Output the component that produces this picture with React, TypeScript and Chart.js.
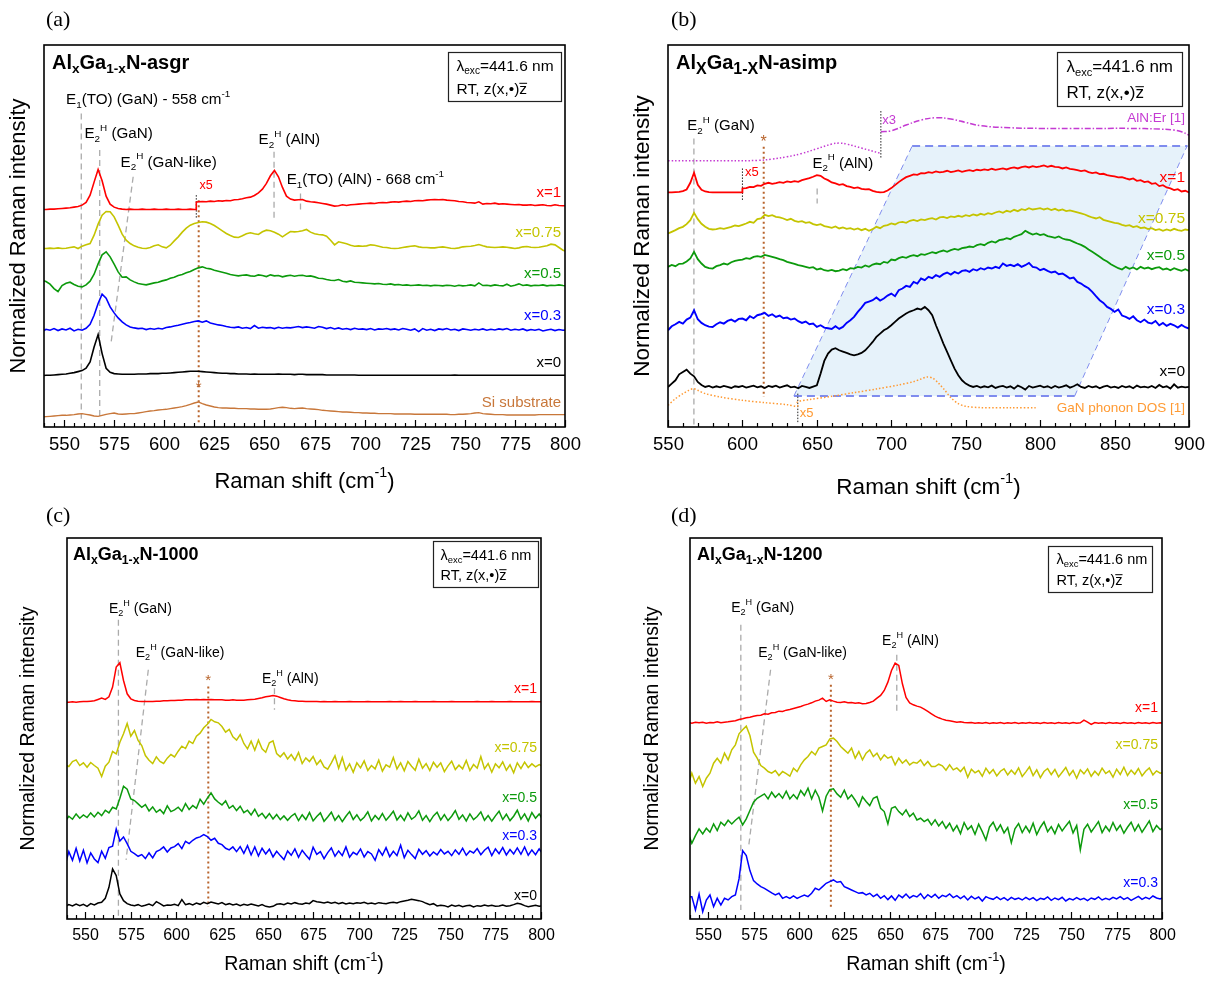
import React, { useEffect, useRef } from "react";
import { Chart, registerables } from "chart.js";

Chart.register(...registerables);

const SANS = '"Liberation Sans", Arial, Helvetica, sans-serif';
const SERIF = '"Liberation Serif", "Times New Roman", Times, serif';

const range = (a: number, b: number, s: number): number[] => {
  const r: number[] = [];
  for (let v = a; v <= b + 1e-9; v += s) r.push(Math.round(v * 100) / 100);
  return r;
};

// ---------- sampling positions (Raman shift, cm-1) ----------
const GRID_A = range(539, 801, 2);
const GRID_B = range(550, 900, 2.5);
const GRID_CD = range(539, 801, 2);
const RED_A_X = [...GRID_A.filter((x) => x < 616), 616, 616, ...GRID_A.filter((x) => x > 616)];
const RED_B_X = [...GRID_B.filter((x) => x <= 600), 600, ...GRID_B.filter((x) => x > 600)];

// ---------- panel (a) AlxGa1-xN-asgr ----------
const RED_A = [
  65.2, 65.2, 65.3, 65.3, 65.4, 65.5, 65.6, 65.7, 65.9, 66.1,
  66.5, 67.3, 69.5, 73.4, 77.2, 73.8, 69.2, 66.8, 65.9, 65.5,
  65.3, 65.2, 65.3, 65.2, 65.2, 65.3, 65.2, 65.2, 65.3, 65.2,
  65.2, 65.3, 65.2, 65.2, 65.3, 65.2, 65.2, 65.3, 65.2,
  65.2, 67.4,
  67.5, 67.6, 67.5, 67.7, 67.6, 67.8, 67.7, 67.9, 67.8, 68.1,
  68.2, 68.4, 68.7, 68.9, 69.4, 70.2, 71.3, 73.0, 75.3, 76.9,
  75.0, 71.8, 69.2, 68.3, 68.0, 68.1, 68.2, 67.7, 67.5, 67.4,
  67.2, 67.0, 66.8, 66.5, 66.2, 66.3, 66.6, 66.4, 66.6, 66.7,
  66.8, 66.9, 67.0, 67.1, 67.0, 67.2, 67.3, 67.2, 67.4, 67.5,
  67.4, 67.6, 67.7, 67.6, 67.8, 67.9, 67.8, 68.0, 68.1, 68.2,
  68.1, 68.2, 68.0, 67.9, 67.8, 67.6, 67.5, 67.3, 67.2, 67.1,
  67.5, 66.8, 67.0, 66.9, 67.1, 66.8, 66.9, 66.8, 66.7, 66.6,
  66.7, 66.5, 66.5, 66.6, 66.4, 66.5, 66.6, 66.4, 66.3, 66.6,
  66.4, 66.3, 66.3,
];
const YEL_A = [
  53.5, 53.5, 53.6, 53.5, 53.7, 53.5, 53.6, 53.8, 54.0, 53.5,
  54.2, 54.6, 55.0, 57.5, 60.8, 63.5, 64.6, 64.5, 63.0, 60.5,
  57.8, 56.0, 55.0, 54.3, 53.9, 53.6, 53.5, 53.8, 54.3, 54.6,
  54.0, 53.7, 54.5, 55.8, 57.0, 58.4, 59.6, 60.5, 61.0, 61.3,
  61.5, 61.4, 61.0, 60.4, 59.6, 58.8, 58.0, 57.4, 56.9, 56.8,
  57.3, 57.9, 58.2, 57.9, 57.7, 58.5, 59.0, 58.8, 58.4, 57.8,
  57.0, 57.8, 58.6, 58.5, 58.6, 58.8, 59.2, 58.4, 57.9, 57.7,
  57.6, 57.2, 56.0, 54.6, 55.5, 55.2, 54.9, 54.5, 54.2, 54.3,
  54.2, 54.3, 54.6, 54.5, 54.2, 53.9, 53.8, 53.6, 53.5, 53.6,
  53.8, 54.0, 54.2, 54.3, 54.0, 53.8, 53.8, 53.7, 53.7, 53.9,
  54.0, 53.8, 53.6, 53.5, 53.7, 54.0, 54.1, 54.2, 54.4, 54.7,
  54.3, 54.0, 53.9, 53.8, 53.9, 54.0, 53.9, 53.7, 53.5, 53.7,
  54.0, 54.1, 53.9, 53.8, 53.9, 54.1, 54.3, 54.8, 54.6, 53.8,
  53.0, 52.6,
];
const GRN_A = [
  44.0, 43.6, 42.8, 41.5, 40.6, 42.4, 43.1, 43.4, 42.7, 42.2,
  42.0, 42.6, 43.7, 45.8, 48.9, 51.6, 52.5, 51.0, 48.8, 46.5,
  44.9, 45.0, 44.1, 43.5, 43.0, 42.8, 42.6, 42.9, 43.2, 43.4,
  43.8, 44.1, 44.6, 44.9, 45.4, 45.7, 46.2, 46.6, 47.2, 47.7,
  48.0, 47.6, 47.4, 47.0, 46.7, 46.4, 46.1, 45.7, 45.5, 45.3,
  45.5, 45.6, 45.3, 45.2, 45.6, 45.4, 45.1, 45.6, 45.3, 45.4,
  45.0, 45.3, 45.5, 45.2, 45.4, 45.5, 45.2, 45.3, 45.0, 44.6,
  44.5, 44.2, 44.0, 43.9, 44.2, 43.7, 43.5, 43.8, 43.4, 43.3,
  43.2, 43.1, 43.0, 42.9, 43.0, 42.8, 42.7, 42.9, 42.6, 42.7,
  42.5, 42.6, 42.4, 42.5, 42.6, 42.4, 42.5, 42.3, 42.5, 42.4,
  42.3, 42.5, 42.4, 42.2, 42.5, 42.3, 42.4, 42.6, 42.3, 43.2,
  42.4, 42.5, 42.3, 42.6, 42.4, 42.3, 42.8, 42.2, 42.5, 42.9,
  42.4, 42.6, 42.3, 42.5, 42.4, 42.6, 42.3, 42.5, 42.4, 42.6,
  42.4, 42.3,
];
const BLU_A = [
  28.5, 29.3, 29.0, 29.5, 28.9, 29.4, 29.1, 29.6, 28.8, 29.3,
  29.0, 29.6, 30.8, 33.5, 37.0, 39.8, 38.6, 36.0, 34.2, 32.7,
  31.5, 30.6, 30.0, 29.7, 29.5, 29.6, 29.2, 29.5, 29.3, 29.6,
  29.4, 29.8, 30.0, 30.3, 30.5, 30.8, 31.1, 31.3, 31.6, 31.8,
  31.4, 31.8, 31.2, 30.9, 30.6, 30.4, 30.1, 29.9, 29.8, 30.0,
  29.6, 29.8, 29.5, 30.4, 29.6, 29.9, 29.7, 29.8, 29.5, 29.9,
  29.6, 29.8, 29.7, 29.9, 30.1, 29.8, 30.0, 29.8, 29.6, 30.1,
  29.9, 29.5, 29.8, 29.4, 29.7, 29.3, 29.5, 29.2, 29.6, 29.3,
  29.4, 29.2, 29.5, 29.1, 29.4, 29.3, 29.5, 29.2, 29.4, 29.1,
  29.5, 29.3, 29.0, 29.4, 28.6, 29.5, 29.0, 29.3, 28.9, 29.4,
  29.2, 29.5, 29.1, 29.3, 28.9, 29.4, 29.2, 29.0, 29.3, 29.1,
  29.4, 29.0, 29.3, 29.1, 29.4, 29.2, 29.5, 29.0, 29.3, 29.1,
  29.4, 28.9, 29.2, 29.0, 29.3, 28.8, 29.1, 29.3, 28.9, 29.2,
  29.0, 29.1,
];
const BLK_A = [
  15.4, 15.5, 15.5, 15.6, 15.7, 15.8, 15.9, 16.1, 16.3, 16.6,
  16.9, 17.6, 19.5, 24.0, 27.7, 22.0, 17.6, 16.4, 16.0, 15.9,
  15.8, 15.8, 15.8, 15.8, 15.9, 15.9, 15.9, 16.0, 16.0, 16.0,
  16.1, 16.1, 16.2, 16.3, 16.4, 16.5, 16.6, 16.7, 16.7, 16.7,
  16.6, 16.5, 16.4, 16.3, 16.2, 16.1, 16.1, 16.0, 16.0, 15.9,
  15.9, 15.9, 15.8, 15.9, 15.8, 15.8, 15.8, 15.8, 15.8, 15.9,
  15.8, 15.8, 15.8, 15.7, 15.8, 15.8, 15.7, 15.7, 15.7, 15.7,
  15.7, 15.6, 15.6, 15.6, 15.6, 15.6, 15.6, 15.6, 15.6, 15.5,
  15.5, 15.5, 15.5, 15.5, 15.5, 15.5, 15.5, 15.5, 15.5, 15.5,
  15.5, 15.5, 15.5, 15.5, 15.5, 15.5, 15.5, 15.5, 15.5, 15.5,
  15.5, 15.5, 15.5, 15.6, 15.5, 15.5, 15.5, 15.5, 15.5, 15.5,
  15.5, 15.5, 15.5, 15.5, 15.5, 15.5, 15.5, 15.5, 15.5, 15.5,
  15.5, 15.5, 15.5, 15.5, 15.5, 15.5, 15.5, 15.5, 15.5, 15.5,
  15.5, 15.5,
];
const SI_A = [
  3.0, 3.1, 3.2, 3.3, 3.4, 3.5, 3.5, 3.6, 3.7, 3.9,
  4.0, 3.8, 3.6, 3.3, 3.2, 3.5, 3.8, 4.0, 4.2, 3.9,
  3.8, 3.9, 4.0, 4.0, 4.2, 4.4, 4.6, 4.8, 4.9, 5.1,
  5.2, 5.3, 5.5, 5.7, 5.9, 6.1, 6.4, 6.8, 7.2, 7.5,
  7.0, 6.6, 6.3, 6.0, 5.8, 5.7, 5.7, 5.6, 5.6, 5.5,
  5.5, 5.5, 5.4, 5.4, 5.3, 5.3, 5.3, 5.4, 5.6, 5.8,
  5.9, 5.8, 5.6, 5.5, 5.6, 5.7, 5.5, 5.4, 5.3, 5.2,
  5.0, 4.9, 4.8, 4.7, 4.6, 4.5, 4.5, 4.4, 4.3, 4.3,
  4.2, 4.2, 4.1, 4.1, 4.0, 4.0, 4.0, 4.0, 3.9, 3.9,
  3.9, 3.9, 3.9, 3.8, 3.8, 3.8, 3.8, 3.8, 3.8, 3.8,
  3.8, 3.8, 3.7, 3.7, 3.8, 3.8, 3.9, 4.0, 4.2, 4.3,
  4.0, 3.9, 3.8, 3.7, 3.7, 3.7, 3.6, 3.6, 3.6, 3.6,
  3.6, 3.6, 3.6, 3.6, 3.7, 3.7, 3.7, 3.7, 3.7, 3.7,
  3.7, 3.7,
];

// ---------- panel (b) AlxGa1-xN-asimp ----------
const RED_B = [
  70.3, 70.3, 70.4, 70.5, 70.7, 71.2, 73.2, 76.2, 72.6, 71.1,
  70.6, 70.4, 70.3, 70.3, 70.3, 70.3, 70.3, 70.3, 70.3, 70.3,
  70.3, 71.5,
  71.6, 72.0, 71.9, 72.4, 72.3, 72.9, 73.2, 72.9, 73.1,
  73.4, 73.2, 73.6, 73.4, 73.7, 73.5, 74.0, 74.3, 74.6, 75.0,
  75.5, 75.3, 74.5, 74.0, 73.3, 73.0, 72.6, 72.8, 72.2, 72.0,
  71.6, 71.8, 71.4, 71.2, 71.3, 70.8, 70.5, 70.3, 70.4, 70.9,
  71.6, 72.5, 73.4, 74.2, 74.9, 75.3, 75.7, 75.6, 76.1, 76.0,
  76.4, 76.2, 76.6, 76.3, 76.5, 76.8, 76.4, 76.6, 76.9, 76.5,
  76.8, 77.0, 76.7, 77.1, 76.9, 77.2, 77.0, 77.4, 77.1, 77.3,
  77.5, 77.2, 77.6, 77.8, 77.5, 77.9, 78.1, 77.8, 78.2, 77.9,
  78.1, 78.4, 78.0, 78.3, 78.0, 77.9, 77.5, 77.8, 77.4, 77.2,
  77.0, 76.7, 76.9, 76.4, 76.1, 76.3, 75.8, 75.9, 75.5, 75.3,
  75.1, 74.8, 74.9, 74.5, 74.2, 74.5, 73.8, 74.0, 73.4, 73.6,
  72.9, 73.1, 72.2, 72.5, 71.8, 71.5, 71.0, 71.3, 70.6, 70.8,
  70.3,
];
const YEL_B = [
  58.0, 58.5, 59.0, 59.6, 60.0, 60.8, 62.0, 64.2, 62.3, 60.9,
  60.0, 59.4, 59.2, 59.3, 59.6, 59.4, 59.7, 60.0, 60.4, 60.2,
  60.6, 61.0, 61.5, 61.2, 62.3, 62.5, 63.6, 63.2, 63.5, 63.0,
  62.8, 62.5, 62.0, 62.4, 61.8, 61.5, 61.7, 61.2, 61.4, 60.8,
  60.5, 60.8, 60.2, 60.0, 59.7, 60.1, 59.5, 59.8, 59.4, 59.6,
  59.2, 59.5, 59.0, 59.4, 58.8, 59.3, 60.0, 59.6, 60.3, 60.5,
  61.0, 60.7, 61.3, 61.5, 61.2, 61.8, 62.1, 61.7, 62.2, 62.0,
  62.4, 62.6, 62.2, 62.8, 63.0, 62.6, 63.1, 62.9, 63.3, 63.0,
  63.5, 63.2, 63.7, 63.4, 63.9, 63.6, 64.1, 63.8, 64.3, 64.6,
  64.2, 64.8, 64.5, 65.1, 64.7, 65.3, 65.0, 65.6, 65.2, 65.4,
  65.6, 65.2, 65.5, 65.0, 65.4, 64.9, 65.2, 64.7, 64.9, 64.6,
  64.3, 64.0, 63.7, 63.2, 62.8, 62.5, 62.9, 62.1, 61.8, 61.5,
  61.2, 61.0, 60.6, 60.3, 60.5, 59.9, 60.2, 59.6, 59.8, 59.3,
  59.6, 59.0, 59.3, 58.8, 59.2, 58.9, 59.4, 59.0, 58.8, 59.2,
  59.0,
];
const GRN_B = [
  48.0, 48.6, 48.2, 48.9, 49.0, 49.6, 50.5, 52.5, 50.3, 49.0,
  48.0, 47.6, 47.5, 48.2, 48.5, 49.0, 48.7, 49.4, 49.8, 50.0,
  50.2, 50.6, 50.4, 51.0, 51.2, 51.0, 51.6, 51.3, 51.0, 50.7,
  50.3, 50.0, 49.5, 49.2, 48.9, 48.5, 48.3, 48.0, 47.7, 47.9,
  47.2, 47.5, 47.0, 46.8, 47.1, 46.7, 46.9, 47.3, 47.0, 47.6,
  47.5, 48.0, 47.8, 48.4, 48.0, 48.7, 49.0, 48.8, 49.5, 49.2,
  50.2, 50.0, 50.6, 51.0, 50.7, 51.2, 51.5, 51.2, 51.8, 51.6,
  52.0, 52.4, 52.1, 52.6, 52.9, 52.5, 53.0, 53.4, 53.1, 53.6,
  53.8, 54.1, 53.9, 54.5, 54.8, 54.5, 55.2, 55.6, 55.3, 56.0,
  56.2, 56.6, 56.3, 57.0, 57.4, 57.8, 58.8, 58.2, 57.7, 58.0,
  57.5, 57.8, 57.2, 57.0, 56.7, 57.1, 56.5, 56.2, 56.0, 55.5,
  55.0, 54.6, 54.0, 53.2, 52.5, 51.8, 51.0, 50.2, 49.6, 48.8,
  48.2, 47.6, 47.2, 48.0, 47.4, 47.8, 47.2, 48.0, 47.5, 47.8,
  47.3, 47.7, 47.9, 47.2, 47.5, 47.0, 47.6, 47.2, 46.8, 47.3,
  46.8,
];
const BLU_B = [
  29.0, 30.2, 30.8, 31.5, 31.0, 32.2, 32.8, 35.0, 32.3, 31.2,
  30.5, 30.1, 30.0, 30.8, 31.4, 31.0, 31.8, 32.2, 31.6, 32.4,
  32.5, 32.0, 33.2, 32.6, 33.5, 33.8, 34.2, 33.3, 33.8, 33.0,
  33.4, 32.6, 32.8, 32.2, 32.5, 31.7, 31.2, 31.6, 30.8, 31.0,
  30.0, 30.5, 29.8, 29.6, 29.4, 30.2, 29.4, 30.0, 31.2, 32.0,
  33.0, 34.5, 35.8, 37.2, 37.6, 38.0, 38.8, 37.9, 38.5, 39.4,
  40.0, 39.2, 41.0, 41.5, 42.3, 42.0, 43.5, 43.0, 44.5, 44.0,
  45.0, 44.6, 45.5, 45.0, 45.8, 46.3, 45.7, 46.5, 46.0, 46.8,
  47.0, 46.5, 47.3, 46.9, 47.6, 47.2, 47.8, 47.5, 48.0, 47.6,
  49.0, 48.3, 48.6, 48.2, 48.8, 48.0, 48.5, 49.2, 48.0, 47.8,
  47.0, 47.4, 46.8, 46.3, 46.6, 45.8, 46.0, 45.3, 44.5, 44.8,
  43.5, 43.0, 42.2, 41.6, 40.5, 39.2, 38.0, 37.2, 36.0, 35.4,
  34.5, 35.2, 33.4, 33.0, 32.4, 33.2, 32.0, 31.4, 32.2, 31.3,
  31.0, 31.8, 30.5, 31.2, 30.3, 30.9, 30.5, 29.8, 30.6, 29.9,
  29.5,
];
const BLK_B = [
  12.0, 13.0, 14.0, 15.8, 16.5, 17.2, 16.0, 15.2, 13.5, 12.6,
  12.0, 12.3, 11.8, 12.2, 11.9, 12.3, 12.0, 11.7, 12.2, 12.0,
  12.3, 11.8, 12.1, 12.4, 11.9, 12.2, 11.7, 12.3, 12.0, 12.4,
  11.8, 12.2, 12.5, 11.9, 12.1, 11.6, 12.3, 12.0, 11.7, 12.1,
  12.5, 16.0, 19.8, 22.0, 23.2, 23.6, 23.0, 22.6, 22.2, 21.8,
  21.5, 21.8, 22.2, 23.0, 24.2, 25.5, 27.0, 28.0, 29.0, 29.6,
  30.5, 31.5, 32.5, 33.3, 34.0, 34.6, 35.0, 35.5, 35.2, 36.0,
  35.0, 33.5, 30.5, 27.8, 25.0, 22.5, 20.0, 17.5, 15.5, 14.0,
  13.0, 12.4, 12.0, 12.3, 11.8, 12.2, 11.9, 12.4, 11.7, 12.1,
  12.3, 11.8, 12.2, 11.5, 12.4, 11.9, 11.2, 12.3, 11.8, 12.1,
  12.4, 11.9, 12.2, 11.7, 12.3, 11.8, 12.1, 12.5, 11.8, 12.2,
  12.8, 12.0, 11.7, 12.3, 11.9, 12.2, 11.6, 12.1, 12.4, 11.8,
  12.1, 11.7, 12.3, 11.9, 12.2, 11.6, 12.4, 11.9, 12.1, 11.8,
  12.3, 11.7, 12.6, 11.9, 12.2, 11.5, 12.8, 11.8, 12.1, 11.9,
  12.0,
];
// reference spectra (b)
const PUR_B1_X = [550, 570, 590, 610, 620, 630, 640, 650, 660, 665, 670, 680, 693];
const PUR_B1 = [79.8, 79.8, 79.8, 79.9, 80.3, 81.0, 82.0, 83.4, 84.8, 85.1, 84.8, 83.6, 82.0];
const PUR_B2_X = [693, 700, 710, 720, 730, 740, 750, 760, 780, 800, 820, 840, 860, 880, 890, 895, 900];
const PUR_B2 = [88.5, 88.8, 90.5, 92.0, 92.7, 92.3, 91.3, 90.3, 89.7, 89.5, 89.5, 89.5, 89.5, 89.3, 89.0, 88.5, 87.5];
const ORG_B_X = [550, 555, 560, 564, 567, 570, 575, 585, 600, 615, 630, 637, 637, 645, 660, 675, 690, 705, 715, 720, 724, 728, 732, 736, 740, 745, 750, 760, 780, 797];
const ORG_B = [6.5, 8.5, 10.0, 11.0, 11.5, 11.0, 10.0, 9.0, 8.0, 7.3, 6.7, 6.2, 7.5, 8.2, 9.2, 10.3, 11.4, 12.6, 13.6, 14.4, 15.0, 14.6, 13.0, 11.0, 8.8, 7.0, 6.2, 5.8, 5.8, 5.8];
const PAR_X = [634.6, 714, 898.7, 823.2, 634.6];
const PAR_Y = [9.3, 84.2, 84.2, 9.3, 9.3];

// ---------- panel (c) AlxGa1-xN-1000 ----------
const RED_C = [
  65.0, 65.0, 65.1, 65.0, 65.1, 65.2, 65.2, 65.3, 65.4, 65.8,
  66.2, 65.8, 66.6, 69.5, 75.5, 76.8, 71.5, 67.5, 66.0, 65.5,
  65.3, 65.2, 65.2, 65.2, 65.2, 65.3, 65.3, 65.4, 65.4, 65.5,
  65.5, 65.6, 65.6, 65.7, 65.7, 65.7, 65.8, 65.7, 65.8, 65.7,
  65.8, 65.7, 65.7, 65.7, 65.6, 65.6, 65.7, 65.6, 65.6, 65.6,
  65.7, 65.8, 65.9, 66.1, 66.3, 66.6, 66.8, 67.0, 66.8, 66.4,
  66.0, 65.7, 65.5, 65.4, 65.3, 65.3, 65.2, 65.2, 65.2, 65.2,
  65.1, 65.2, 65.1, 65.1, 65.2, 65.1, 65.1, 65.1, 65.2, 65.1,
  65.1, 65.1, 65.1, 65.2, 65.1, 65.1, 65.1, 65.1, 65.1, 65.2,
  65.1, 65.1, 65.2, 65.1, 65.1, 65.1, 65.2, 65.1, 65.1, 65.1,
  65.1, 65.2, 65.1, 65.1, 65.1, 65.1, 65.2, 65.1, 65.1, 65.1,
  65.1, 65.1, 65.1, 65.2, 65.1, 65.1, 65.1, 65.2, 65.1, 65.1,
  65.1, 65.1, 65.2, 65.1, 65.1, 65.1, 65.1, 65.1, 65.2, 65.1,
  65.1, 65.1,
];
const YEL_C = [
  46.2, 45.7, 47.2, 47.7, 46.0, 46.8, 45.5, 46.9, 46.0, 45.2,
  42.7, 45.8, 47.0, 50.2, 49.5, 53.0, 55.5, 58.6, 54.8, 56.5,
  53.5, 52.0, 49.0, 47.6, 46.6, 48.6, 47.2, 46.6, 48.2, 49.3,
  48.6, 50.3, 51.8, 51.1, 53.3, 52.6, 54.8, 55.7, 57.3, 58.4,
  59.8, 59.1, 58.8, 57.7, 56.0, 56.8, 54.6, 53.6, 55.3, 52.6,
  51.0, 53.3, 50.6, 53.6, 51.0, 50.0, 52.8, 53.4, 49.6, 48.6,
  49.8, 48.0, 49.3, 47.6, 49.9, 46.6, 48.3, 47.2, 48.7, 46.3,
  47.6, 45.6, 44.9, 46.8, 48.9, 45.2, 48.4, 44.6, 46.5, 44.0,
  46.8, 45.3, 47.4, 44.5, 46.0, 45.0, 47.6, 44.3, 46.2, 45.5,
  48.4, 45.0, 46.8, 44.4, 47.2, 45.8, 44.6, 47.9, 45.2, 46.6,
  44.5, 47.0, 45.5, 46.8, 44.2, 45.9, 47.3, 44.8, 46.1, 45.0,
  47.5, 44.5, 46.3, 45.2, 48.7, 45.0, 46.6, 44.0, 46.5, 45.3,
  47.1, 44.6, 46.2, 43.8, 46.8, 45.1, 47.0, 45.4, 46.5, 45.6,
  46.3, 45.8,
];
const GRN_C = [
  29.2, 30.8, 29.9, 31.5, 30.2, 31.2, 30.4, 31.8, 30.6, 32.0,
  31.0, 32.6, 31.8, 33.5, 33.0, 36.2, 39.8, 38.9, 36.0, 35.5,
  34.5, 33.5, 34.3, 32.4, 33.6, 32.0, 32.8, 31.6, 33.9, 32.2,
  32.7, 33.5, 32.3, 34.6, 32.8, 34.0, 33.2, 35.9, 34.4, 36.2,
  37.8, 36.0, 35.0, 34.2, 35.4, 33.2, 34.0, 32.5, 33.8, 31.9,
  32.6, 31.2, 32.9, 30.8, 31.7, 30.2, 31.6, 30.0, 31.3, 29.8,
  30.9, 29.6, 30.8, 31.6, 29.5, 31.2, 29.8, 31.9, 29.4, 30.7,
  31.8, 29.3, 30.6, 32.0, 29.6, 31.0, 29.2, 30.8, 32.2, 29.8,
  31.2, 29.5, 30.5, 32.1, 29.4, 31.0, 29.8, 31.6, 29.6, 30.9,
  32.3, 29.7, 31.1, 29.5, 31.8, 29.9, 30.7, 32.4, 29.6, 31.0,
  29.2, 30.9, 32.0, 29.7, 31.3, 29.5, 30.8, 32.5, 29.9, 31.2,
  29.4, 31.5, 29.8, 30.7, 32.1, 29.6, 31.0, 29.3, 30.9, 32.3,
  29.8, 31.4, 29.5, 30.8, 32.6, 29.9, 31.5, 29.4, 31.9, 30.2,
  31.5, 29.8,
];
const BLU_C = [
  16.2, 20.2, 17.6, 21.2, 17.4, 20.6, 16.8, 19.8, 18.0, 16.9,
  20.3, 18.2, 21.4, 21.8, 27.0, 23.4, 24.6, 22.6, 20.3, 19.6,
  18.8, 19.3, 18.1, 19.8, 18.3, 20.2, 20.7, 21.6, 20.1, 21.3,
  21.7, 22.6, 21.1, 23.3, 22.6, 23.6, 24.3, 24.6, 25.3, 24.7,
  23.6, 24.2, 22.7, 22.3, 21.2, 20.7, 21.6, 20.2, 21.7, 19.7,
  22.0, 19.2, 21.6, 18.9, 21.2, 19.5, 20.9, 18.6, 20.3, 19.0,
  17.8, 20.4, 19.1, 21.0, 18.5, 20.6, 19.2, 17.9, 21.5, 19.4,
  20.2, 18.1, 19.9, 21.3, 18.8, 20.4, 19.0, 21.6, 18.5, 20.0,
  19.3, 21.0, 18.6, 20.2, 19.5, 17.6, 20.8, 19.1, 21.4, 18.7,
  20.3, 19.0, 22.1, 18.4, 20.6, 19.3, 18.1, 20.9, 19.4, 20.5,
  18.9, 20.1, 19.2, 20.8, 19.5, 20.3, 19.0, 20.7, 19.4, 21.2,
  19.1, 20.4, 19.8, 21.1, 19.3, 20.6, 21.5, 19.0, 21.0, 19.6,
  21.4, 19.2, 20.8, 19.5, 21.3, 19.4, 21.6, 19.1, 20.7, 19.3,
  21.0, 19.5,
];
const BLK_C = [
  3.7, 4.3, 3.9, 4.5, 4.0, 4.4, 3.8, 4.6, 4.2, 4.8,
  5.0, 6.2, 9.5, 15.0, 13.0, 7.5, 5.5, 4.6, 4.2, 4.0,
  4.3, 3.8, 4.1, 4.5, 4.0, 5.2, 4.6, 3.9, 4.2, 4.1,
  4.4, 4.0, 5.8, 4.3, 4.6, 4.2, 4.8, 4.4, 5.0, 4.6,
  5.1, 4.8, 4.5, 4.9, 4.3, 4.6, 4.2, 4.5, 4.0, 4.4,
  4.1, 4.5, 4.2, 3.9, 4.3, 3.8, 3.6, 3.8, 4.4, 4.6,
  4.3, 4.8, 4.5, 4.9, 4.6, 4.4, 4.8, 4.6, 5.5, 5.2,
  5.0, 4.8, 5.1, 4.7, 5.0, 4.6, 4.9, 4.5, 4.8, 4.6,
  4.9, 4.7, 5.0, 4.6, 4.8, 4.5, 4.9, 4.7, 4.6, 4.9,
  5.0, 4.8, 5.2, 5.4, 5.6, 5.9, 5.7, 5.5, 5.2, 4.7,
  4.3, 4.6, 3.9, 4.1, 4.0, 3.6, 4.2, 3.8, 4.1, 3.7,
  4.0, 4.1, 3.6, 4.0, 3.8, 4.2, 3.9, 4.1, 3.8, 3.9,
  4.2, 3.8, 4.0, 4.3, 4.7, 4.5, 4.0, 3.7, 3.9, 4.1,
  3.8, 4.0,
];

// ---------- panel (d) AlxGa1-xN-1200 ----------
const RED_D = [
  58.9, 58.7, 59.0, 58.8, 59.0, 58.7, 58.9, 58.8, 59.1, 58.8,
  59.0, 59.1, 59.3, 59.4, 59.8, 60.0, 60.3, 60.5, 60.8, 61.0,
  61.1, 61.5, 61.4, 61.8, 61.9, 62.3, 62.2, 62.6, 62.8, 63.1,
  63.4, 63.7, 64.1, 64.4, 64.8, 65.3, 65.6, 66.2, 65.2, 65.7,
  65.3, 65.0, 64.9, 65.1, 64.8, 64.9, 64.7, 64.8, 64.5, 64.6,
  64.9, 65.3, 66.2, 67.0, 68.5, 71.0, 74.5, 76.7, 76.0, 70.5,
  66.4, 64.8, 64.2, 63.8, 63.5, 62.9, 62.2, 61.5, 60.8, 60.3,
  59.9, 59.6, 59.4, 59.2, 59.0, 59.1, 58.9, 58.8, 58.9, 58.7,
  58.8, 58.7, 58.9, 58.6, 58.8, 58.7, 58.9, 58.6, 58.8, 58.7,
  58.9, 58.6, 58.8, 58.7, 58.9, 58.7, 58.8, 58.6, 58.9, 58.7,
  58.8, 58.6, 58.9, 58.7, 58.8, 58.6, 58.9, 58.7, 58.8, 59.6,
  59.0, 58.3, 58.9, 58.7, 58.8, 58.6, 58.9, 58.7, 58.8, 58.6,
  58.9, 58.7, 58.8, 58.6, 58.9, 58.7, 58.8, 58.6, 58.9, 58.7,
  58.8, 58.7,
];
const YEL_D = [
  40.2, 43.7, 40.7, 42.7, 39.7, 42.2, 43.7, 46.7, 48.2, 46.7,
  49.7, 47.7, 50.7, 52.2, 55.5, 56.7, 57.8, 55.0, 50.0, 48.2,
  46.0, 45.2, 44.2, 43.7, 44.5, 43.0, 44.2, 43.6, 42.8, 45.2,
  44.2, 46.2, 47.7, 48.7, 50.2, 49.2, 51.2, 51.7, 52.2, 54.0,
  54.2, 53.2, 51.7, 50.7, 49.7, 51.2, 48.2, 50.2, 47.7, 49.7,
  50.7, 48.7, 49.7, 47.7, 49.2, 48.2, 48.7, 46.2, 48.2, 46.7,
  47.7, 46.2, 47.0, 46.7, 47.7, 46.0, 47.2, 45.7, 45.7, 46.4,
  45.9, 44.6, 46.2, 44.7, 45.3, 44.2, 45.5, 42.5, 44.9, 43.8,
  44.5, 42.8, 45.2, 43.6, 44.8, 42.9, 44.3, 45.0, 43.2, 44.6,
  43.4, 45.3, 42.7, 44.1, 45.6, 43.0, 44.7, 42.4, 44.2, 45.1,
  43.3, 44.8, 42.6, 44.0, 45.4, 43.1, 44.5, 42.2, 44.7, 43.5,
  45.0, 42.8, 44.3, 43.1, 45.2, 43.6, 44.4, 42.5, 44.9, 43.3,
  45.5, 43.0, 44.6, 43.4, 45.1, 42.9, 44.3, 45.3, 43.2, 44.4,
  43.7, 44.0,
];
const GRN_D = [
  25.7, 22.7, 25.0, 27.0, 25.5, 27.2, 26.0, 28.5, 26.5, 29.0,
  28.0, 29.6, 28.5, 29.6, 30.5, 28.2, 30.0, 32.5, 35.0, 36.2,
  36.8, 37.5, 36.0, 38.0, 36.5, 37.6, 36.2, 38.3, 36.0, 37.3,
  36.0, 38.5, 37.0, 39.2, 36.0, 38.6, 36.5, 32.4, 36.8, 38.8,
  39.0, 37.5, 36.5, 38.6, 36.0, 37.2, 35.6, 33.7, 36.6, 35.2,
  34.0, 36.2, 36.7, 33.2, 32.2, 28.5, 33.2, 33.7, 32.2, 31.2,
  32.7, 30.7, 31.7, 29.7, 30.2, 29.2, 29.9, 28.2, 29.7, 27.9,
  29.2, 27.2, 28.7, 26.4, 28.0, 25.6, 28.9, 26.8, 27.9, 25.4,
  28.4, 26.2, 23.7, 27.6, 29.0, 26.5, 28.2, 25.8, 27.4, 22.9,
  27.0, 28.6, 25.9, 27.8, 26.0, 28.7, 25.3, 27.5, 29.1, 26.2,
  27.7, 25.6, 28.3, 26.4, 27.9, 29.3, 25.8, 28.0, 20.7, 26.9,
  28.4, 26.1, 27.6, 29.2, 25.9, 27.8, 26.3, 28.9, 26.6, 28.1,
  25.7, 27.5, 29.0, 26.4, 28.3, 26.0, 27.7, 29.4, 26.2, 28.0,
  26.8, 27.5,
];
const BLU_D = [
  6.7, 6.7, 2.7, 7.5, 2.2, 5.7, 7.2, 3.7, 6.2, 4.2,
  6.2, 5.7, 6.7, 7.2, 12.0, 20.5, 19.0, 14.5, 11.5, 10.5,
  9.7, 9.2, 8.5, 7.8, 7.2, 7.7, 6.2, 6.7, 6.2, 6.9,
  6.2, 6.7, 7.2, 6.7, 7.7, 9.2, 8.7, 9.7, 10.7, 11.2,
  11.7, 11.0, 11.2, 9.7, 9.2, 8.7, 8.2, 7.7, 7.9, 7.2,
  7.7, 6.7, 7.4, 6.2, 7.0, 5.8, 6.9, 5.6, 7.2, 6.4,
  7.5, 6.3, 7.0, 6.6, 7.6, 6.1, 7.3, 6.5, 7.4, 6.2,
  7.1, 6.7, 7.5, 6.4, 7.0, 6.1, 6.9, 5.7, 6.8, 6.0,
  6.6, 5.4, 6.7, 6.2, 5.9, 6.6, 5.8, 6.4, 5.6, 6.5,
  5.9, 6.3, 5.7, 6.5, 5.8, 6.4, 5.5, 6.2, 5.9, 6.6,
  5.6, 6.3, 5.8, 6.5, 5.4, 6.1, 5.7, 6.4, 5.8, 6.2,
  5.5, 6.3, 5.9, 6.6, 5.7, 6.2, 5.8, 6.5, 6.0, 6.7,
  5.9, 6.4, 5.6, 6.2, 6.8, 5.9, 6.5, 6.0, 6.9, 6.3,
  6.0, 6.6,
];

// ---------- marker guides [x1,x2] / [y1,y2] ----------
const A_E1GAN = { x: [558.6, 558.6], y: [94, 2.5] };
const A_E2GAN = { x: [567.8, 567.8], y: [83, 2.5] };
const A_E2LIKE = { x: [584.5, 573.4], y: [75, 25] };
const A_E2ALN = { x: [654.8, 654.8], y: [82.5, 61.5] };
const A_E1ALN = { x: [668, 668], y: [70, 64] };
const A_STAR = { x: [617.2, 617.2], y: [68, 1] };
const A_BREAK = { x: [616, 616], y: [69.5, 62.5] };

const B_E2GAN = { x: [567.4, 567.4], y: [86.5, 0] };
const B_E2ALN = { x: [650.2, 650.2], y: [71.5, 67] };
const B_STAR = { x: [614.3, 614.3], y: [84, 9] };
const B_BREAK1 = { x: [600, 600], y: [77.5, 68] };
const B_BREAK2 = { x: [693, 693], y: [94.7, 80.5] };
const B_BREAK3 = { x: [637.2, 637.2], y: [10, 1] };
const B_PAR_TOP = { x: [714, 899], y: [84.2, 84.2] };
const B_PAR_BOT = { x: [634.6, 823.2], y: [9.3, 9.3] };
const B_PAR_L = { x: [634.6, 714], y: [9.3, 84.2] };
const B_PAR_R = { x: [823.2, 898.7], y: [9.3, 84.2] };

const C_E2GAN = { x: [568.2, 568.2], y: [89.7, 0] };
const C_E2LIKE = { x: [584.6, 572.4], y: [74.7, 17.7] };
const C_E2ALN = { x: [653.8, 653.8], y: [69.2, 62.7] };
const C_STAR = { x: [617.5, 617.5], y: [69.7, 3.7] };

const D_E2GAN = { x: [568, 568], y: [88.2, 2.7] };
const D_E2LIKE = { x: [584.4, 572.3], y: [74.7, 21.7] };
const D_E2ALN = { x: [653.9, 653.9], y: [79.2, 61.2] };
const D_STAR = { x: [617.6, 617.6], y: [70.2, 3.7] };

// ---------- styles ----------
const COL = {
  red: "#ff0000",
  yel: "#c4c400",
  grn: "#0c9a0c",
  blu: "#0000ff",
  blk: "#000000",
  si: "#c8773a",
  star: "#b8642c",
  pur: "#c43ad2",
  org: "#ff9a33",
  gray: "#ababab",
  par: "#7f8cee",
  fill: "rgba(214,234,247,0.6)",
};

type Seg = [string, number]; // 0 normal, 1 sub, 2 sup, 3 overbar
const E2H = (tail: string): Seg[] => [["E", 0], ["2", 1], ["H", 2], [tail, 0]];
const XTITLE: Seg[] = [["Raman shift (cm", 0], ["-1", 2], [")", 0]];
const YTITLE: Seg[] = [["Normalized Raman intensity", 0]];
const LEG1: Seg[] = [["λ", 0], ["exc", 1], ["=441.6 nm", 0]];
const LEG2: Seg[] = [["RT, z(x,•)", 0], ["z", 3]];

const ds = (xs: number[], ys: number[], color: string, width: number, dash: number[] = [], extra: any = {}) => ({
  data: xs.map((x, i) => ({ x, y: ys[i] })),
  borderColor: color,
  backgroundColor: color,
  borderWidth: width,
  borderDash: dash,
  pointRadius: 0,
  pointHoverRadius: 0,
  tension: 0,
  fill: false,
  ...extra,
});
const gray = (g: { x: number[]; y: number[] }) => ds(g.x, g.y, COL.gray, 1.3, [6, 4]);
const star = (g: { x: number[]; y: number[] }) => ds(g.x, g.y, COL.star, 2, [2, 3]);
const brk = (g: { x: number[]; y: number[] }) => ds(g.x, g.y, "#222", 1, [1.5, 1.5]);

function drawRich(ctx: CanvasRenderingContext2D, segs: Seg[], x: number, y: number, size: number, color: string, align = "left", bold = false, subScale = 0.65) {
  const font = (sz: number) => `${bold ? "bold " : ""}${sz}px ${SANS}`;
  const sizeOf = (m: number) => (m === 1 || m === 2 ? size * subScale : size);
  let total = 0;
  for (const [t, m] of segs) {
    ctx.font = font(sizeOf(m));
    total += ctx.measureText(t).width;
  }
  let cx = align === "right" ? x - total : align === "center" ? x - total / 2 : x;
  ctx.fillStyle = color;
  ctx.strokeStyle = color;
  ctx.textAlign = "left";
  ctx.textBaseline = "middle";
  for (const [t, m] of segs) {
    const sz = sizeOf(m);
    ctx.font = font(sz);
    const dy = m === 1 ? size * 0.32 : m === 2 ? -size * 0.4 : 0;
    ctx.fillText(t, cx, y + dy);
    const w = ctx.measureText(t).width;
    if (m === 3) {
      ctx.lineWidth = 1;
      ctx.beginPath();
      ctx.moveTo(cx, y - size * 0.4);
      ctx.lineTo(cx + w, y - size * 0.4);
      ctx.stroke();
    }
    cx += w;
  }
}

interface Lbl { s: Seg[]; x: number | null; y: number; c: string; f: number; al?: string }

const sl = (t: string, y: number, c: string, f: number): Lbl => ({ s: [[t, 0]], x: null, y, c, f });

const PANELS: any[] = [
  {
    key: "a",
    cv: { l: 0, t: 0, w: 605, h: 500 },
    box: { l: 44, t: 45, r: 565, b: 427 },
    xmin: 540, xmax: 800, ymax: 114.5, minor: 5, major: 25, major0: 550,
    tickMaj: 7, tickMin: 4, tickFont: 18.5, tickY: 445, xTitleY: 482, yTitleX: 19, axFont: 22,
    title: [["Al", 0], ["x", 1], ["Ga", 0], ["1-x", 1], ["N-asgr", 0]] as Seg[],
    titleFont: 20, titleSub: 0.68, titlePos: [8, 18],
    lg: { r: 4, t: 7, w: 113, h: 49, px: 8, y1: 14, y2: 37, f: 15.5 },
    letter: "(a)", letterPos: [46, 20],
    labels: [
      { s: [["E", 0], ["1", 1], ["(TO) (GaN) - 558 cm", 0], ["-1", 2]], x: 551, y: 98, c: "#000", f: 15.2 },
      { s: E2H(" (GaN)"), x: 560.2, y: 87.8, c: "#000", f: 15.2 },
      { s: E2H(" (GaN-like)"), x: 578.2, y: 79.3, c: "#000", f: 15.2 },
      { s: E2H(" (AlN)"), x: 647.1, y: 86, c: "#000", f: 15.2 },
      { s: [["E", 0], ["1", 1], ["(TO) (AlN) - 668 cm", 0], ["-1", 2]], x: 661.1, y: 74, c: "#000", f: 15.2 },
      { s: [["x5", 0]], x: 617.6, y: 72.5, c: COL.red, f: 12.5 },
      { s: [["*", 0]], x: 617.2, y: 11.6, c: COL.star, f: 15, al: "center" },
      sl("x=1", 70.2, COL.red, 15),
      sl("x=0.75", 58.3, COL.yel, 15),
      sl("x=0.5", 45.8, COL.grn, 15),
      sl("x=0.3", 33.3, COL.blu, 15),
      sl("x=0", 19.3, COL.blk, 15),
      sl("Si substrate", 7.3, COL.si, 15),
    ] as Lbl[],
    build: () => [
      ds(RED_A_X, RED_A, COL.red, 1.6),
      ds(GRID_A, YEL_A, COL.yel, 1.6),
      ds(GRID_A, GRN_A, COL.grn, 1.6),
      ds(GRID_A, BLU_A, COL.blu, 1.6),
      ds(GRID_A, BLK_A, COL.blk, 1.6),
      ds(GRID_A, SI_A, COL.si, 1.4),
      brk(A_BREAK),
      star(A_STAR),
      gray(A_E1GAN), gray(A_E2GAN), gray(A_E2LIKE), gray(A_E2ALN), gray(A_E1ALN),
    ],
  },
  {
    key: "b",
    cv: { l: 605, t: 0, w: 606, h: 500 },
    box: { l: 668, t: 45, r: 1189, b: 427 },
    xmin: 550, xmax: 900, ymax: 114.5, minor: 10, major: 50, major0: 550,
    tickMaj: 7, tickMin: 4, tickFont: 18.5, tickY: 445, xTitleY: 488, yTitleX: 643, axFont: 22.5,
    title: [["Al", 0], ["X", 1], ["Ga", 0], ["1-X", 1], ["N-asimp", 0]] as Seg[],
    titleFont: 20, titleSub: 0.8, titlePos: [8, 18],
    lg: { r: 7, t: 7, w: 125, h: 54, px: 9, y1: 15, y2: 41, f: 17 },
    letter: "(b)", letterPos: [671, 20],
    labels: [
      { s: E2H(" (GaN)"), x: 563, y: 90.2, c: "#000", f: 15 },
      { s: [["x5", 0]], x: 601.8, y: 76.2, c: COL.red, f: 13 },
      { s: E2H(" (AlN)"), x: 647, y: 79, c: "#000", f: 15 },
      { s: [["x3", 0]], x: 694, y: 92, c: COL.pur, f: 13 },
      { s: [["*", 0]], x: 614.3, y: 85.2, c: COL.star, f: 16, al: "center" },
      { s: [["x5", 0]], x: 638.5, y: 4, c: COL.org, f: 13 },
      sl("AlN:Er [1]", 92.5, COL.pur, 13.5),
      sl("GaN phonon DOS [1]", 5.5, COL.org, 13.5),
      sl("x=1", 74.8, COL.red, 15.5),
      sl("x=0.75", 62.5, COL.yel, 15.5),
      sl("x=0.5", 51.2, COL.grn, 15.5),
      sl("x=0.3", 35.2, COL.blu, 15.5),
      sl("x=0", 16.5, COL.blk, 15.5),
    ] as Lbl[],
    build: () => [
      ds(RED_B_X, RED_B, COL.red, 1.8),
      ds(GRID_B, YEL_B, COL.yel, 1.8),
      ds(GRID_B, GRN_B, COL.grn, 1.8),
      ds(GRID_B, BLU_B, COL.blu, 1.9),
      ds(GRID_B, BLK_B, COL.blk, 1.8),
      ds(PUR_B1_X, PUR_B1, COL.pur, 1.5, [1.5, 2], { tension: 0.4 }),
      ds(PUR_B2_X, PUR_B2, COL.pur, 1.5, [6, 2, 1.5, 2], { tension: 0.4 }),
      ds(ORG_B_X, ORG_B, COL.org, 1.5, [1.5, 2], { tension: 0.3 }),
      brk(B_BREAK1), brk(B_BREAK2), brk(B_BREAK3),
      star(B_STAR),
      gray(B_E2GAN), gray(B_E2ALN),
      ds(B_PAR_TOP.x, B_PAR_TOP.y, COL.par, 2, [8, 5]),
      ds(B_PAR_BOT.x, B_PAR_BOT.y, COL.par, 2, [8, 5]),
      ds(B_PAR_L.x, B_PAR_L.y, COL.par, 1, [6, 4]),
      ds(B_PAR_R.x, B_PAR_R.y, COL.par, 1, [6, 4]),
      ds(PAR_X, PAR_Y, "rgba(0,0,0,0)", 0, [], { fill: "shape", backgroundColor: COL.fill }),
    ],
  },
  {
    key: "c",
    cv: { l: 0, t: 500, w: 605, h: 482 },
    box: { l: 67, t: 538, r: 541, b: 919 },
    xmin: 540, xmax: 800, ymax: 114.2, minor: 5, major: 25, major0: 550,
    tickMaj: 7, tickMin: 4, tickFont: 16, tickY: 936, xTitleY: 965, yTitleX: 29, axFont: 19.5,
    title: [["Al", 0], ["x", 1], ["Ga", 0], ["1-x", 1], ["N-1000", 0]] as Seg[],
    titleFont: 18, titleSub: 0.68, titlePos: [6, 17],
    lg: { r: 3, t: 3, w: 105, h: 46, px: 7, y1: 14, y2: 34, f: 14.5 },
    letter: "(c)", letterPos: [46, 516],
    labels: [
      { s: E2H(" (GaN)"), x: 563, y: 92.9, c: "#000", f: 14 },
      { s: E2H(" (GaN-like)"), x: 577.7, y: 79.7, c: "#000", f: 14 },
      { s: E2H(" (AlN)"), x: 646.9, y: 72, c: "#000", f: 14 },
      { s: [["*", 0]], x: 617.5, y: 71.4, c: COL.star, f: 15, al: "center" },
      sl("x=1", 68.9, COL.red, 14),
      sl("x=0.75", 51.2, COL.yel, 14),
      sl("x=0.5", 36.2, COL.grn, 14),
      sl("x=0.3", 24.9, COL.blu, 14),
      sl("x=0", 6.9, COL.blk, 14),
    ] as Lbl[],
    build: () => [
      ds(GRID_CD, RED_C, COL.red, 1.5),
      ds(GRID_CD, YEL_C, COL.yel, 1.5),
      ds(GRID_CD, GRN_C, COL.grn, 1.5),
      ds(GRID_CD, BLU_C, COL.blu, 1.5),
      ds(GRID_CD, BLK_C, COL.blk, 1.5),
      star(C_STAR),
      gray(C_E2GAN), gray(C_E2LIKE), gray(C_E2ALN),
    ],
  },
  {
    key: "d",
    cv: { l: 605, t: 500, w: 606, h: 482 },
    box: { l: 690, t: 538, r: 1162, b: 919 },
    xmin: 540, xmax: 800, ymax: 114.2, minor: 5, major: 25, major0: 550,
    tickMaj: 7, tickMin: 4, tickFont: 16, tickY: 936, xTitleY: 965, yTitleX: 653, axFont: 19.5,
    title: [["Al", 0], ["x", 1], ["Ga", 0], ["1-x", 1], ["N-1200", 0]] as Seg[],
    titleFont: 18, titleSub: 0.68, titlePos: [7, 17],
    lg: { r: 10, t: 8, w: 104, h: 46, px: 8, y1: 13, y2: 34, f: 14.5 },
    letter: "(d)", letterPos: [671, 516],
    labels: [
      { s: E2H(" (GaN)"), x: 562.7, y: 93.2, c: "#000", f: 14 },
      { s: E2H(" (GaN-like)"), x: 577.6, y: 79.7, c: "#000", f: 14 },
      { s: E2H(" (AlN)"), x: 645.8, y: 83.2, c: "#000", f: 14 },
      { s: [["*", 0]], x: 617.6, y: 71.7, c: COL.star, f: 15, al: "center" },
      sl("x=1", 63.2, COL.red, 14),
      sl("x=0.75", 52, COL.yel, 14),
      sl("x=0.5", 34.2, COL.grn, 14),
      sl("x=0.3", 10.7, COL.blu, 14),
    ] as Lbl[],
    build: () => [
      ds(GRID_CD, RED_D, COL.red, 1.5),
      ds(GRID_CD, YEL_D, COL.yel, 1.5),
      ds(GRID_CD, GRN_D, COL.grn, 1.5),
      ds(GRID_CD, BLU_D, COL.blu, 1.5),
      star(D_STAR),
      gray(D_E2GAN), gray(D_E2LIKE), gray(D_E2ALN),
    ],
  },
];

function makePlugin(P: any) {
  return {
    id: "deco_" + P.key,
    afterDatasetsDraw(chart: any) {
      const ctx: CanvasRenderingContext2D = chart.ctx;
      const { left, right, top, bottom } = chart.chartArea;
      const sx = chart.scales.x;
      const sy = chart.scales.y;
      ctx.save();
      // x ticks (inward) and labels
      ctx.strokeStyle = "#000";
      ctx.lineWidth = 1.2;
      for (let v = P.xmin; v <= P.xmax + 1e-6; v += P.minor) {
        const px = Math.round(sx.getPixelForValue(v)) + 0.5;
        const isMaj = v >= P.major0 && Math.abs((v - P.major0) % P.major) < 1e-6;
        ctx.beginPath();
        ctx.moveTo(px, bottom);
        ctx.lineTo(px, bottom - (isMaj ? P.tickMaj : P.tickMin));
        ctx.stroke();
        if (isMaj) {
          ctx.font = `${P.tickFont}px ${SANS}`;
          ctx.fillStyle = "#000";
          ctx.textAlign = "center";
          ctx.textBaseline = "middle";
          ctx.fillText(String(v), px, P.tickY - P.cv.t);
        }
      }
      // frame
      ctx.lineWidth = 1.6;
      ctx.strokeStyle = "#000";
      ctx.strokeRect(left, top, right - left, bottom - top);
      // annotations
      for (const L of P.labels as Lbl[]) {
        const px = L.x === null ? right - 4 : sx.getPixelForValue(L.x);
        const py = sy.getPixelForValue(L.y);
        drawRich(ctx, L.s, px, py, L.f, L.c, L.x === null ? "right" : L.al || "left");
      }
      // sample title
      drawRich(ctx, P.title, left + P.titlePos[0], top + P.titlePos[1], P.titleFont, "#000", "left", true, P.titleSub);
      // condition box
      const lg = P.lg;
      const bx = Math.round(right - lg.r - lg.w) + 0.5;
      const by = Math.round(top + lg.t) + 0.5;
      ctx.fillStyle = "#fff";
      ctx.fillRect(bx, by, lg.w, lg.h);
      ctx.strokeStyle = "#222";
      ctx.lineWidth = 1.2;
      ctx.strokeRect(bx, by, lg.w, lg.h);
      drawRich(ctx, LEG1, bx + lg.px, by + lg.y1, lg.f, "#000");
      drawRich(ctx, LEG2, bx + lg.px, by + lg.y2, lg.f, "#000");
      // axis titles
      drawRich(ctx, XTITLE, (left + right) / 2, P.xTitleY - P.cv.t, P.axFont, "#000", "center");
      ctx.save();
      ctx.translate(P.yTitleX - P.cv.l, (top + bottom) / 2);
      ctx.rotate(-Math.PI / 2);
      drawRich(ctx, YTITLE, 0, 0, P.axFont, "#000", "center");
      ctx.restore();
      // panel letter
      ctx.font = `22px ${SERIF}`;
      ctx.fillStyle = "#000";
      ctx.textAlign = "left";
      ctx.textBaseline = "middle";
      ctx.fillText(P.letter, P.letterPos[0] - P.cv.l, P.letterPos[1] - P.cv.t);
      ctx.restore();
    },
  };
}

function PanelChart({ P }: { P: any }) {
  const ref = useRef<HTMLCanvasElement>(null);
  useEffect(() => {
    const cv = ref.current;
    if (!cv) return;
    const chart = new Chart(cv, {
      type: "line",
      data: { datasets: P.build() },
      options: {
        animation: false,
        responsive: false,
        events: [],
        layout: {
          padding: {
            left: P.box.l - P.cv.l,
            top: P.box.t - P.cv.t,
            right: P.cv.l + P.cv.w - P.box.r,
            bottom: P.cv.t + P.cv.h - P.box.b,
          },
        },
        plugins: { legend: { display: false }, tooltip: { enabled: false } },
        scales: {
          x: { type: "linear", min: P.xmin, max: P.xmax, display: false },
          y: { type: "linear", min: 0, max: P.ymax, display: false },
        },
      } as any,
      plugins: [makePlugin(P)],
    });
    return () => chart.destroy();
  }, [P]);
  return (
    <canvas
      ref={ref}
      width={P.cv.w}
      height={P.cv.h}
      style={{ position: "absolute", left: P.cv.l, top: P.cv.t, width: P.cv.w, height: P.cv.h }}
    />
  );
}

export default function App() {
  return (
    <div style={{ position: "absolute", left: 0, top: 0, width: 1211, height: 982, background: "#fff", overflow: "hidden" }}>
      {PANELS.map((P) => (
        <PanelChart key={P.key} P={P} />
      ))}
    </div>
  );
}
